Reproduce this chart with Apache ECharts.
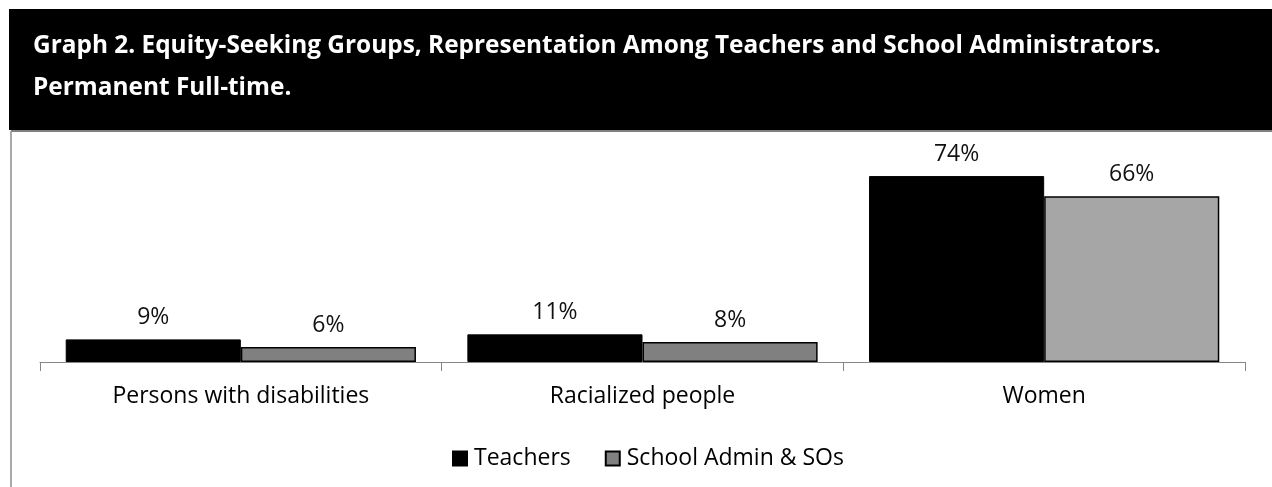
<!DOCTYPE html>
<html>
<head>
<meta charset="utf-8">
<script src="https://cdn.jsdelivr.net/npm/echarts@6/dist/echarts.min.js"></script>
<style>
html,body{margin:0;padding:0;background:#fff;}
#chart{width:1272px;height:487px;}
</style>
</head>
<body>
<div id="chart"></div>
<script>
const titleLines = ["Graph 2. Equity-Seeking Groups, Representation Among Teachers and School Administrators.", "Permanent Full-time."];
const categories = ["Persons with disabilities", "Racialized people", "Women"];
const seriesNames = ["Teachers", "School Admin & SOs"];
const teachers = [9, 11, 74];
const schoolAdmin = [6, 8, 66];

const FONT = "'Open Sans', sans-serif";
const chart = echarts.init(document.getElementById('chart'), null, {renderer: 'canvas'});

const adminColors = ['#808080', '#808080', '#a6a6a6'];

chart.setOption({
  backgroundColor: '#ffffff',
  animation: false,
  graphic: [
    {type: 'rect', left: 9, top: 9, shape: {width: 1263, height: 121}, style: {fill: '#000'}, z: 0},
    {type: 'line', shape: {x1: 11, y1: 131, x2: 1272, y2: 131}, style: {stroke: '#7f7f7f', lineWidth: 2}, z: 1},
    {type: 'line', shape: {x1: 11, y1: 131, x2: 11, y2: 487}, style: {stroke: '#8c8c8c', lineWidth: 1.5}, z: 1}
  ],
  title: {
    text: titleLines.join('\n'),
    left: 33,
    top: 25,
    padding: 0,
    textStyle: {color: '#fff', fontFamily: FONT, fontWeight: 'bold', fontSize: 24.4, lineHeight: 42}
  },
  legend: {
    data: seriesNames,
    left: 452,
    top: 447,
    padding: 0,
    itemWidth: 14,
    itemHeight: 14,
    itemGap: 34,
    icon: 'rect',
    textStyle: {color: '#000', fontFamily: FONT, fontSize: 23, padding: [0, 0, 0, 2]}
  },
  grid: {left: 40, right: 27, top: 161, bottom: 125, containLabel: false},
  xAxis: {
    type: 'category',
    data: categories,
    axisLine: {show: true, lineStyle: {color: '#868686', width: 1}},
    axisTick: {show: true, length: 9, lineStyle: {color: '#868686'}},
    axisLabel: {color: '#000', fontFamily: FONT, fontSize: 23, margin: 23}
  },
  yAxis: {
    type: 'value', min: 0, max: 80, interval: 10,
    show: false,
    splitLine: {show: false}
  },
  series: [
    {
      name: seriesNames[0], type: 'bar', data: teachers,
      barGap: '0%', barCategoryGap: '12.8%',
      itemStyle: {color: '#000', borderColor: '#000', borderWidth: 1},
      label: {show: true, position: 'top', distance: 10, formatter: '{c}%', color: '#111', fontFamily: FONT, fontSize: 23}
    },
    {
      name: seriesNames[1], type: 'bar',
      data: schoolAdmin.map((v, i) => ({value: v, itemStyle: {color: adminColors[i]}})),
      barGap: '0%', barCategoryGap: '12.8%',
      itemStyle: {color: '#808080', borderColor: '#000', borderWidth: 1.5},
      label: {show: true, position: 'top', distance: 10, formatter: '{c}%', color: '#111', fontFamily: FONT, fontSize: 23}
    }
  ]
});
</script>
</body>
</html>
